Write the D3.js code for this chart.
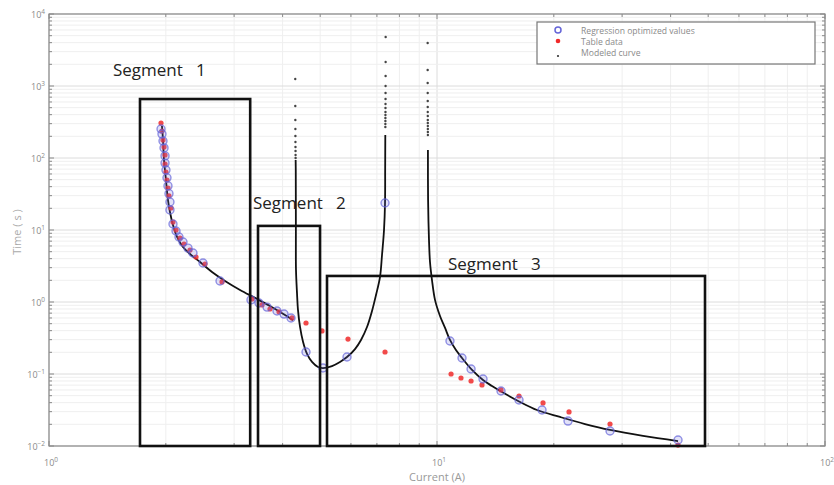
<!DOCTYPE html>
<html>
<head>
<meta charset="utf-8">
<script src="https://cdn.jsdelivr.net/npm/d3@7"></script>
<style>
  body { margin: 0; background: #fff; }
  text { font-family: "Open Sans", "Liberation Sans", sans-serif; }
</style>
</head>
<body>
<svg id="chart" width="834" height="485"></svg>
<script>
// modeled curve, solid parts (current A, time s)
const seg1I = [1.955, 1.967, 1.979, 2.002, 2.026, 2.050, 2.087, 2.138, 2.215, 2.309, 2.450, 2.631, 2.842, 3.107, 3.396, 3.711, 4.058, 4.255];
const seg1T = [278, 178, 93.8, 49.5, 26.1, 17.8, 11.7, 8.0, 5.8, 4.64, 3.59, 2.61, 1.96, 1.47, 1.14, 0.88, 0.66, 0.56];

const seg2I = [4.322, 4.325, 4.328, 4.331, 4.357, 4.383, 4.436, 4.515, 4.624, 4.763, 4.935, 5.083, 5.362, 5.623, 5.862, 6.147, 6.370, 6.601, 6.800, 6.963, 7.131, 7.216, 7.302, 7.346, 7.352, 7.358];
const seg2T = [94, 68, 10, 2.78, 1.33, 0.77, 0.45, 0.28, 0.19, 0.147, 0.125, 0.121, 0.129, 0.147, 0.172, 0.222, 0.297, 0.449, 0.75, 1.25, 2.23, 4.5, 10, 23.7, 68, 209];

const seg3I = [9.476, 9.485, 9.536, 9.593, 9.707, 9.882, 10.18, 10.49, 10.80, 11.19, 11.60, 12.31, 13.14, 13.86, 14.71, 16.37, 18.10, 20.75, 24.07, 27.92, 33.96, 41.80];
const seg3T = [129, 26.1, 7.26, 3.59, 2.02, 1.07, 0.639, 0.436, 0.297, 0.215, 0.167, 0.114, 0.0825, 0.0681, 0.0562, 0.0409, 0.0316, 0.0253, 0.0202, 0.0167, 0.0138, 0.0117];

// modeled curve, sparse dots near the asymptotes
const spikeLeftI = [4.312, 4.313, 4.314, 4.315, 4.316, 4.317, 4.318, 4.319, 4.320, 4.321];
const spikeLeftT = [1250, 527, 337, 253, 202, 167, 142, 125, 110, 100];
const spikeMidI = [7.360, 7.361, 7.362, 7.363, 7.364, 7.365, 7.366, 7.367, 7.368, 7.369, 7.370, 7.371, 7.372, 7.373];
const spikeMidT = [270, 297, 327, 359, 396, 435, 495, 562, 660, 799, 1000, 1377, 2154, 4794];
const spikeRightI = [9.460, 9.461, 9.462, 9.463, 9.464, 9.465, 9.466, 9.467, 9.468, 9.469, 9.470, 9.471, 9.472, 9.473];
const spikeRightT = [3957, 1668, 1101, 799, 619, 511, 435, 383, 337, 306, 278, 253, 230, 209];

// regression optimized values
const regI = [1.944, 1.955, 1.967, 1.979, 1.991, 1.991, 2.002, 2.014, 2.026, 2.038, 2.050, 2.050, 2.087, 2.125, 2.163, 2.215, 2.282, 2.350, 2.494, 2.759, 3.316, 3.477, 3.647, 3.869, 4.034, 4.205,
  4.596, 5.083, 5.862, 7.346,
  10.80, 11.60, 12.24, 13.14, 14.62, 16.27, 18.65, 21.76, 27.92, 41.80];
const regT = [253, 215, 172, 138, 107, 85, 68, 53, 41, 32, 24.5, 19.0, 12.1, 9.7, 8.0, 6.8, 5.6, 4.8, 3.48, 1.96, 1.07, 0.97, 0.85, 0.75, 0.68, 0.60,
  0.202, 0.121, 0.172, 23.7,
  0.287, 0.167, 0.1173, 0.0852, 0.0581, 0.0436, 0.0316, 0.0222, 0.01616, 0.01212];

// table data
const tabI = [1.944, 1.955, 1.967, 1.979, 1.991, 1.991, 2.002, 2.014, 2.026, 2.038, 2.063, 2.087, 2.125, 2.176, 2.228, 2.309, 2.393, 2.524, 2.792, 3.336, 3.540, 3.711, 3.915, 4.230,
  4.596, 5.053, 5.897, 7.346,
  10.87, 11.53, 12.24, 13.06, 14.62, 16.27, 18.76, 21.89, 27.92, 41.80];
const tabT = [306, 237, 178, 142, 110, 82.5, 63.9, 49.5, 38.3, 29.7, 20.2, 12.9, 10, 7.74, 6.39, 5.27, 4.22, 3.37, 1.90, 1.10, 0.91, 0.80, 0.73, 0.60,
  0.511, 0.396, 0.306, 0.202,
  0.100, 0.088, 0.080, 0.0704, 0.060, 0.0495, 0.0396, 0.0297, 0.0202, 0.0103];

// segment boxes: [I from, I to, T top], bottom is the axis floor
const segNames = ["Segment   1", "Segment   2", "Segment   3"];
const segFrom = [1.716, 3.457, 5.206];
const segTo = [3.30, 4.995, 49.06];
const segTop = [659, 11.4, 2.30];

const legendLabels = ["Regression optimized values", "Table data", "Modeled curve"];

const svg = d3.select("#chart");
const x = d3.scaleLog().domain([1, 100]).range([49, 825]);
const y = d3.scaleLog().domain([0.01, 10000]).range([446, 14]);
const [x0, x1] = x.range();
const [y0, y1] = y.range();

const zip = (a, b) => a.map((v, i) => [v, b[i]]);

// grid values: 1..9 per decade
const xVals = [], yVals = [];
for (let d = 0; d < 2; d++) for (let k = 1; k <= 9; k++) xVals.push({ v: k * 10 ** d, major: k === 1 });
xVals.push({ v: 100, major: true });
for (let d = -2; d < 4; d++) for (let k = 1; k <= 9; k++) yVals.push({ v: +(k * 10 ** d).toPrecision(3), major: k === 1 });
yVals.push({ v: 10000, major: true });

const grid = svg.append("g");
grid.selectAll(".gx").data(xVals).enter().append("line")
  .attr("x1", d => x(d.v)).attr("x2", d => x(d.v))
  .attr("y1", y1).attr("y2", y0)
  .attr("stroke", d => d.major ? "#dcdcdc" : "#efefef").attr("stroke-width", 1);
grid.selectAll(".gy").data(yVals).enter().append("line")
  .attr("y1", d => y(d.v)).attr("y2", d => y(d.v))
  .attr("x1", x0).attr("x2", x1)
  .attr("stroke", d => d.major ? "#dcdcdc" : "#efefef").attr("stroke-width", 1);

// axes frame + inward ticks
const ax = svg.append("g").attr("stroke", "#8a8a8a");
ax.append("rect").attr("x", x0).attr("y", y1).attr("width", x1 - x0).attr("height", y0 - y1)
  .attr("fill", "none").attr("stroke-width", 1.2);
xVals.forEach(d => {
  const len = d.major ? 5 : 3;
  ax.append("line").attr("x1", x(d.v)).attr("x2", x(d.v)).attr("y1", y0).attr("y2", y0 - len);
  ax.append("line").attr("x1", x(d.v)).attr("x2", x(d.v)).attr("y1", y1).attr("y2", y1 + len);
});
yVals.forEach(d => {
  const len = d.major ? 5 : 3;
  ax.append("line").attr("y1", y(d.v)).attr("y2", y(d.v)).attr("x1", x0).attr("x2", x0 + len);
  ax.append("line").attr("y1", y(d.v)).attr("y2", y(d.v)).attr("x1", x1).attr("x2", x1 - len);
});

// tick labels 10^n
function powLabel(g, px, py, exp, anchor) {
  const t = g.append("text").attr("x", px).attr("y", py).attr("text-anchor", anchor)
    .attr("fill", "#8a8a8a").style("font-size", "9px");
  t.append("tspan").text("10");
  t.append("tspan").attr("dy", -4).style("font-size", "6.5px").text(exp);
}
const labels = svg.append("g");
[0, 1, 2].forEach(e => powLabel(labels, x(10 ** e) + 2, 466, e, "middle"));
[-2, -1, 0, 1, 2, 3, 4].forEach(e => powLabel(labels, 45, y(10 ** e) + 4, e < 0 ? "\u2212" + (-e) : e, "end"));

svg.append("text").attr("x", x(10)).attr("y", 481).attr("text-anchor", "middle")
  .attr("fill", "#999").style("font-size", "11px").text("Current (A)");
svg.append("text").attr("transform", `translate(21,${(y0 + y1) / 2 + 2}) rotate(-90)`)
  .attr("text-anchor", "middle").attr("fill", "#aaa").style("font-size", "11px")
  .style("white-space", "pre").text("Time ( s )");

// modeled curve
const line = d3.line().x(d => x(d[0])).y(d => y(d[1])).curve(d3.curveCatmullRom.alpha(0.5));
const curve = svg.append("g");
[zip(seg1I, seg1T), zip(seg2I, seg2T), zip(seg3I, seg3T)].forEach(pts => {
  curve.append("path").attr("d", line(pts)).attr("fill", "none")
    .attr("stroke", "#111").attr("stroke-width", 1.8);
});
const spikes = [...zip(spikeLeftI, spikeLeftT), ...zip(spikeMidI, spikeMidT), ...zip(spikeRightI, spikeRightT)];
curve.selectAll(".dot").data(spikes).enter().append("circle")
  .attr("cx", d => x(d[0])).attr("cy", d => y(d[1])).attr("r", 1.2).attr("fill", "#444");

// table data (red) and regression values (blue circles)
svg.append("g").selectAll("circle").data(zip(tabI, tabT)).enter().append("circle")
  .attr("cx", d => x(d[0])).attr("cy", d => y(d[1])).attr("r", 2.6)
  .attr("fill", "#f02a2a").attr("fill-opacity", 0.85);
svg.append("g").selectAll("circle").data(zip(regI, regT)).enter().append("circle")
  .attr("cx", d => x(d[0])).attr("cy", d => y(d[1])).attr("r", 4)
  .attr("fill", "#6f6fe0").attr("fill-opacity", 0.2)
  .attr("stroke", "#6565d8").attr("stroke-opacity", 0.7).attr("stroke-width", 1.4);

// segment boxes
const boxes = svg.append("g");
segNames.forEach((name, i) => {
  boxes.append("rect")
    .attr("x", x(segFrom[i])).attr("y", y(segTop[i]))
    .attr("width", x(segTo[i]) - x(segFrom[i])).attr("height", y0 - y(segTop[i]))
    .attr("fill", "none").attr("stroke", "#111").attr("stroke-width", 2.6);
});
const segLabelDx = [-27, -5, 121];
const segLabelDy = [-23, -17, -6];
segNames.forEach((name, i) => {
  boxes.append("text")
    .attr("x", x(segFrom[i]) + segLabelDx[i]).attr("y", y(segTop[i]) + segLabelDy[i])
    .attr("fill", "#222").style("font-size", "17px").style("white-space", "pre").text(name);
});

// legend
const lg = svg.append("g");
lg.append("rect").attr("x", 537).attr("y", 22).attr("width", 278).attr("height", 42)
  .attr("fill", "#fff").attr("stroke", "#777").attr("stroke-width", 1.2);
const rowY = [31, 42, 53];
legendLabels.forEach((t, i) => {
  lg.append("text").attr("x", 581).attr("y", rowY[i] + 3).attr("fill", "#8a8a8a")
    .style("font-size", "8.6px").text(t);
});
lg.append("circle").attr("cx", 558).attr("cy", rowY[0] - 1).attr("r", 3)
  .attr("fill", "none").attr("stroke", "#6565d8").attr("stroke-width", 1.5);
lg.append("circle").attr("cx", 558).attr("cy", rowY[1] - 1).attr("r", 2.3).attr("fill", "#f02a2a");
lg.append("circle").attr("cx", 558).attr("cy", rowY[2] + 3).attr("r", 1.1).attr("fill", "#333");
</script>
</body>
</html>
